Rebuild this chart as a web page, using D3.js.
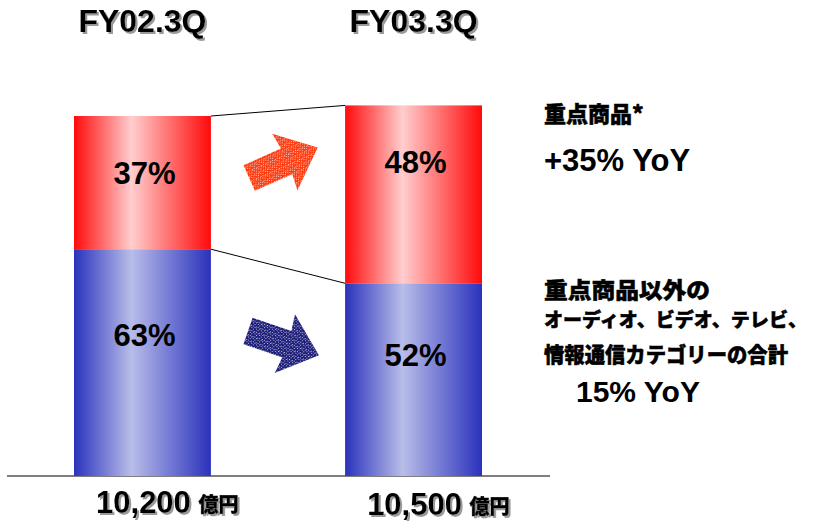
<!DOCTYPE html>
<html>
<head>
<meta charset="utf-8">
<script src="https://cdn.jsdelivr.net/npm/d3@7"></script>
<style>
  body { margin: 0; background: #fff; }
  svg { display: block; }
  .lat { font-family: "Liberation Sans", Arial, sans-serif; font-weight: bold; }
  .jp { font-family: "Noto Sans CJK JP", sans-serif; font-weight: 900; stroke: #000; stroke-width: 0.5; }
</style>
</head>
<body>
<script>
// data
var periods = ["FY02.3Q", "FY03.3Q"];
var totals = [10200, 10500];        // 億円
var focusShare = [37, 48];          // 重点商品 %
var otherShare = [63, 52];          // その他 %
var totalLabels = ["10,200", "10,500"];
var unitLabel = "億円";
var focusNote = ["重点商品*", "+35% YoY"];
var otherNote = ["重点商品以外の", "オーディオ、ビデオ、テレビ、", "情報通信カテゴリーの合計", "15% YoY"];

var w = 819;
var h = 521;

var svg = d3.select("body").append("svg").attr("width", w).attr("height", h);
var defs = svg.append("defs");

//scales
var xScale = d3.scaleBand().domain(periods).range([74, 482]).paddingInner(0.495).paddingOuter(0);
var yScale = d3.scaleLinear().domain([0, totals[0]]).range([476, 116]);

//gradients
function grad(id, edge, mid) {
  var g = defs.append("linearGradient").attr("id", id).attr("x1", "0%").attr("x2", "100%");
  g.append("stop").attr("offset", "0%").attr("stop-color", edge);
  g.append("stop").attr("offset", "42%").attr("stop-color", mid);
  g.append("stop").attr("offset", "100%").attr("stop-color", edge);
}
grad("gRed", "#ff0a0a", "#ffcece");
grad("gBlue", "#2a32bc", "#b9bde9");

//speckle patterns for arrows
function speckle(id, base) {
  var p = defs.append("pattern").attr("id", id).attr("width", 5).attr("height", 5)
    .attr("patternUnits", "userSpaceOnUse");
  p.append("rect").attr("width", 5).attr("height", 5).attr("fill", base);
  [[0, 0], [2, 1], [4, 3], [1, 3], [3, 4]].forEach(function (d) {
    p.append("rect").attr("x", d[0]).attr("y", d[1]).attr("width", 1).attr("height", 1)
      .attr("fill", "#fff").attr("opacity", 0.7);
  });
}
speckle("pRed", "#ff3d12");
speckle("pBlue", "#1d1d7a");

var shadow = defs.append("filter").attr("id", "shd").attr("x", "-10%").attr("y", "-20%")
  .attr("width", "130%").attr("height", "150%");
shadow.append("feDropShadow").attr("dx", 2).attr("dy", 2).attr("stdDeviation", 0.6)
  .attr("flood-color", "#9a9a9a");

//stack data
var stacked = periods.map(function (p, i) {
  var blueTop = totals[i] * otherShare[i] / 100;
  return {
    period: p,
    other: { y0: 0, y1: blueTop, pct: otherShare[i] },
    focus: { y0: blueTop, y1: totals[i], pct: focusShare[i] }
  };
});

//baseline
svg.append("line")
  .attr("x1", 7).attr("x2", 550)
  .attr("y1", yScale(0)).attr("y2", yScale(0))
  .attr("stroke", "#555").attr("stroke-width", 1.5);

//bars
var bars = svg.selectAll(".bar").data(stacked).enter().append("g").attr("class", "bar");

bars.append("rect")
  .attr("x", function (d) { return xScale(d.period); })
  .attr("width", xScale.bandwidth())
  .attr("y", function (d) { return yScale(d.other.y1); })
  .attr("height", function (d) { return yScale(d.other.y0) - yScale(d.other.y1); })
  .attr("fill", "url(#gBlue)");

bars.append("rect")
  .attr("x", function (d) { return xScale(d.period); })
  .attr("width", xScale.bandwidth())
  .attr("y", function (d) { return yScale(d.focus.y1); })
  .attr("height", function (d) { return yScale(d.focus.y0) - yScale(d.focus.y1); })
  .attr("fill", "url(#gRed)");

//percent labels
bars.append("text")
  .attr("class", "lat")
  .attr("x", function (d) { return xScale(d.period) + xScale.bandwidth() / 2 + 2; })
  .attr("y", function (d) { return yScale(d.focus.y1) + 68; })
  .attr("text-anchor", "middle")
  .attr("font-size", 31)
  .text(function (d) { return d.focus.pct + "%"; });

bars.append("text")
  .attr("class", "lat")
  .attr("x", function (d) { return xScale(d.period) + xScale.bandwidth() / 2 + 2; })
  .attr("y", function (d) {
    var t = yScale(d.other.y1), b = yScale(d.other.y0);
    return t + (b - t) * 0.42 + 2;
  })
  .attr("text-anchor", "middle")
  .attr("font-size", 31)
  .text(function (d) { return d.other.pct + "%"; });

//connector lines
var a = stacked[0], b = stacked[1];
var xr = xScale(a.period) + xScale.bandwidth();
var xl = xScale(b.period);
svg.append("line").attr("x1", xr).attr("y1", yScale(a.focus.y1)).attr("x2", xl).attr("y2", yScale(b.focus.y1))
  .attr("stroke", "#000").attr("stroke-width", 1);
svg.append("line").attr("x1", xr).attr("y1", yScale(a.focus.y0)).attr("x2", xl).attr("y2", yScale(b.focus.y0))
  .attr("stroke", "#000").attr("stroke-width", 1);

//titles
svg.selectAll(".title").data(periods).enter().append("text")
  .attr("class", "lat title")
  .attr("x", function (d) { return xScale(d) + xScale.bandwidth() / 2; })
  .attr("y", 32)
  .attr("text-anchor", "middle")
  .attr("font-size", 32)
  .attr("filter", "url(#shd)")
  .text(function (d) { return d; });

//totals under bars
var tot = svg.selectAll(".tot").data(periods).enter().append("g").attr("class", "tot")
  .attr("filter", "url(#shd)");
tot.append("text")
  .attr("class", "lat")
  .attr("x", function (d) { return xScale(d) + xScale.bandwidth() / 2 + 1; })
  .attr("y", function (d, i) { return 513 + i * 2; })
  .attr("text-anchor", "middle")
  .attr("font-size", 31)
  .text(function (d, i) { return totalLabels[i]; });
tot.append("text")
  .attr("class", "jp")
  .attr("x", function (d) { return xScale(d) + xScale.bandwidth() / 2 + 56; })
  .attr("y", function (d, i) { return 512 + i * 2; })
  .attr("font-size", 20)
  .text(unitLabel);

//arrows: shaft + head, drawn along +x then rotated
var arrowShape = d3.line()([[-37, -14], [4, -14], [2, -31], [38, 0], [2, 31], [4, 14], [-37, 14]]) + "Z";
svg.append("path").attr("d", arrowShape)
  .attr("transform", "translate(283,163) rotate(-24)")
  .attr("fill", "url(#pRed)");
svg.append("path").attr("d", arrowShape)
  .attr("transform", "translate(283,343) rotate(19)")
  .attr("fill", "url(#pBlue)");

//notes on the right
svg.append("text").attr("class", "jp").attr("x", 544).attr("y", 122)
  .attr("font-size", 22).text(focusNote[0]);
svg.append("text").attr("class", "lat").attr("x", 544).attr("y", 171)
  .attr("font-size", 31).text(focusNote[1]);

var noteY = [298, 327, 362];
var noteW = [166, 263, 244];
var noteF = [22, 19, 21];
otherNote.slice(0, 3).forEach(function (t, i) {
  svg.append("text").attr("class", "jp").attr("x", 544).attr("y", noteY[i])
    .attr("font-size", noteF[i]).attr("textLength", noteW[i]).attr("lengthAdjust", "spacingAndGlyphs")
    .text(t);
});
svg.append("text").attr("class", "lat").attr("x", 576).attr("y", 402)
  .attr("font-size", 30).text(otherNote[3]);
</script>
</body>
</html>
